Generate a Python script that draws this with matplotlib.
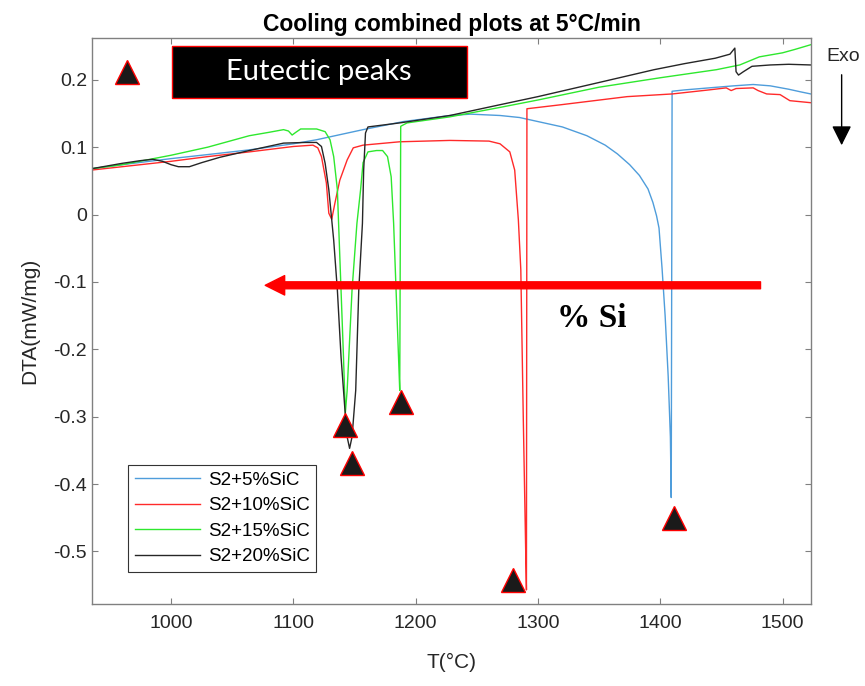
import matplotlib
matplotlib.use("Agg")
import matplotlib.pyplot as plt
from matplotlib.patches import Rectangle, FancyArrowPatch

plt.rcParams['font.family'] = ['Liberation Sans', 'DejaVu Sans']
plt.rcParams['axes.unicode_minus'] = False

# S2+5%SiC
blue_T = [935, 960, 1000, 1030, 1064, 1100, 1119, 1157, 1190, 1228, 1245, 1269,
          1285, 1300, 1320, 1340, 1355, 1365, 1375, 1383, 1390, 1394, 1397, 1399,
          1401.5, 1404, 1406.5, 1408.3, 1409, 1409.7, 1420, 1440,
          1460, 1476, 1490, 1505, 1515, 1523]
blue_y = [0.068, 0.074, 0.083, 0.089, 0.096, 0.105, 0.111, 0.126, 0.138, 0.147, 0.149, 0.147,
          0.144, 0.138, 0.130, 0.117, 0.103, 0.090, 0.074, 0.058, 0.038, 0.018, -0.002, -0.020,
          -0.080, -0.150, -0.240, -0.330, -0.420, 0.183, 0.185, 0.188,
          0.191, 0.193, 0.191, 0.186, 0.182, 0.179]

# S2+10%SiC
red_T = [935, 960, 1000, 1030, 1064, 1100, 1116, 1120, 1123, 1127, 1129, 1131.4,
         1134, 1138, 1144, 1149, 1157, 1187, 1228, 1260, 1269, 1277, 1281, 1284,
         1286, 1288, 1290, 1290.6, 1291, 1319, 1373, 1410, 1440, 1454, 1458, 1462,
         1476, 1480, 1487, 1498, 1506, 1523]
red_y = [0.066, 0.071, 0.079, 0.086, 0.093, 0.101, 0.103, 0.099, 0.086, 0.047, 0.002, -0.007,
         0.017, 0.051, 0.081, 0.099, 0.103, 0.108, 0.110, 0.109, 0.105, 0.093, 0.066, -0.008,
         -0.082, -0.300, -0.500, -0.557, 0.157, 0.163, 0.175, 0.179, 0.185, 0.188, 0.184, 0.187,
         0.188, 0.184, 0.179, 0.178, 0.169, 0.166]

# S2+15%SiC
green_T = [935, 960, 980, 1000, 1030, 1064, 1080, 1092, 1096, 1099, 1102, 1106,
           1119, 1126, 1130, 1133, 1136, 1137, 1139, 1141, 1142.5, 1144, 1148, 1152,
           1155, 1157, 1161, 1168, 1173, 1177, 1180, 1182, 1184, 1186, 1187, 1187.8,
           1193, 1228, 1269, 1300, 1350, 1400, 1446, 1465, 1481, 1500, 1510, 1523]
green_y = [0.068, 0.074, 0.081, 0.088, 0.100, 0.117, 0.122, 0.126, 0.124, 0.118, 0.122, 0.127,
           0.127, 0.123, 0.111, 0.086, 0.037, -0.013, -0.112, -0.211, -0.295, -0.261, -0.112, -0.013,
           0.037, 0.077, 0.093, 0.095, 0.095, 0.086, 0.056, -0.013, -0.112, -0.211, -0.261, 0.131,
           0.136, 0.145, 0.159, 0.170, 0.189, 0.203, 0.215, 0.222, 0.234, 0.240, 0.245, 0.252]

# S2+20%SiC
black_T = [935, 960, 975, 985, 993, 1000, 1006, 1015, 1025, 1040, 1064, 1092,
           1110, 1119, 1123, 1126, 1129, 1133, 1136, 1139, 1142, 1144, 1146, 1148,
           1151, 1153.5, 1156.5, 1157.5, 1159, 1161, 1187, 1228, 1269, 1300, 1350, 1395,
           1420, 1445, 1457, 1461, 1462, 1464, 1468, 1475, 1490, 1505, 1523]
black_y = [0.068, 0.076, 0.080, 0.082, 0.079, 0.074, 0.071, 0.071, 0.077, 0.085, 0.095, 0.106,
           0.107, 0.107, 0.101, 0.076, 0.037, -0.038, -0.112, -0.211, -0.285, -0.330, -0.347, -0.330,
           -0.261, -0.112, -0.013, 0.066, 0.121, 0.130, 0.136, 0.147, 0.163, 0.175, 0.196, 0.215,
           0.224, 0.232, 0.238, 0.247, 0.212, 0.207, 0.212, 0.220, 0.222, 0.223, 0.222]

peak_T = [1142.5, 1148, 1188, 1280, 1411]
peak_y = [-0.313, -0.368, -0.278, -0.543, -0.450]

fig = plt.figure(figsize=(8.65, 6.86), dpi=100)
ax = fig.add_axes([0.1064, 0.1195, 0.8312, 0.8251])

ax.plot(blue_T, blue_y, color='#4f9ddb', lw=1.0, label='S2+5%SiC')
ax.plot(red_T, red_y, color='#ff2a2a', lw=1.0, label='S2+10%SiC')
ax.plot(green_T, green_y, color='#2ee82e', lw=1.0, label='S2+15%SiC')
ax.plot(black_T, black_y, color='#262626', lw=1.0, label='S2+20%SiC')

ax.plot(peak_T, peak_y, ls='none', marker='^', ms=17, mfc='#1a1a1a',
        mec='red', mew=1.0, zorder=5)

ax.set_xlim(935.4, 1523.3)
ax.set_ylim(-0.578, 0.262)
ax.set_xticks([1000, 1100, 1200, 1300, 1400, 1500])
ax.set_yticks([-0.5, -0.4, -0.3, -0.2, -0.1, 0, 0.1, 0.2])
ax.set_yticklabels(['-0.5', '-0.4', '-0.3', '-0.2', '-0.1', '0', '0.1', '0.2'])
ax.tick_params(direction='in', length=4, top=True, right=True,
               labelsize=14, colors='#808080', labelcolor='#262626')
ax.tick_params(axis='x', pad=8)
for s in ax.spines.values():
    s.set_color('#808080')
    s.set_linewidth(1.0)

ax.set_xlabel('T(°C)', fontsize=15, color='#262626', labelpad=15)
ax.set_ylabel('DTA(mW/mg)', fontsize=15, color='#262626', labelpad=10)
ax.set_title('Cooling combined plots at 5°C/min', fontsize=16.5,
             fontweight='bold', pad=5)

leg = ax.legend(loc='lower left', bbox_to_anchor=(0.05, 0.057), borderaxespad=0,
                fontsize=13.5, fancybox=False, edgecolor='#333333', framealpha=1,
                handlelength=3.5, handletextpad=0.4, labelspacing=0.45,
                borderpad=0.35)
leg.get_frame().set_linewidth(0.8)

# big red arrow and label
ax.annotate('', xy=(1077, -0.105), xytext=(1482, -0.105),
            arrowprops=dict(color='red', width=5, headwidth=14,
                            headlength=14, shrink=0))
ax.text(1344, -0.154, '% Si', fontsize=24, fontweight='bold',
        family='Liberation Serif', ha='center', va='center')

# "Eutectic peaks" key box
ax.add_patch(Rectangle((0.111, 0.894), 0.411, 0.092, transform=ax.transAxes,
                       facecolor='black', edgecolor='red', lw=1.0, zorder=6))
ax.text(0.316, 0.94, 'Eutectic peaks', transform=ax.transAxes, color='white',
        fontsize=21, family='Lato', ha='center', va='center', zorder=7)
ax.plot([964], [0.212], ls='none', marker='^', ms=17, mfc='#1a1a1a',
        mec='red', mew=1.0, zorder=7)

# Exo marker outside the axes
fig.text(0.975, 0.917, 'Exo', fontsize=14, ha='center', va='center',
         color='#262626')
fig.patches.append(FancyArrowPatch(
    (0.973, 1 - 72 / 686), (0.973, 1 - 148 / 686), transform=fig.transFigure,
    arrowstyle='-|>,head_length=6,head_width=3', color='black', lw=1.0,
    mutation_scale=2))

fig.savefig('out.png', dpi=100)
